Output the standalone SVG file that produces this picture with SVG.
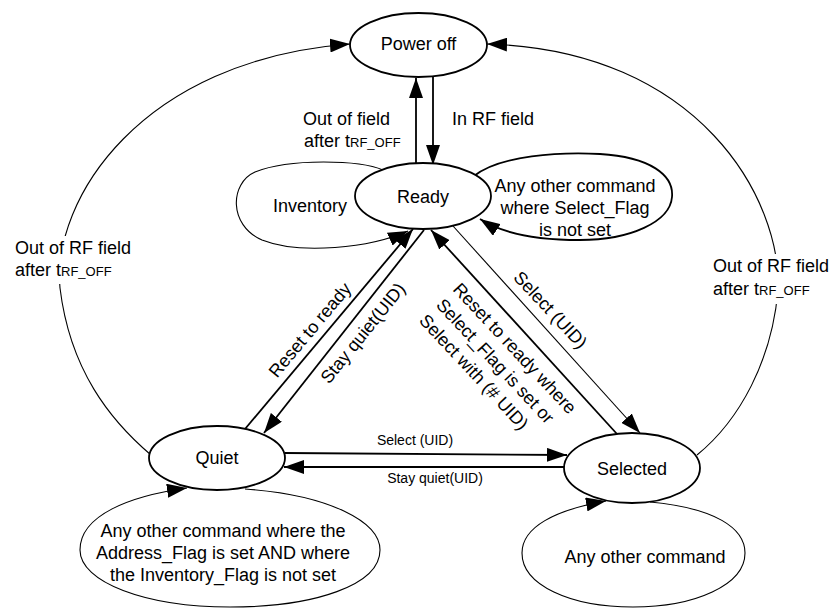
<svg xmlns="http://www.w3.org/2000/svg" width="835" height="610" viewBox="0 0 835 610">
<style>
text{font-family:"Liberation Sans",Arial,sans-serif;font-size:18px;fill:#000}
.sm{font-size:14px}
.sub{font-size:13px}
.node{fill:#fff;stroke:#000;stroke-width:1.8}
.c{fill:none;stroke:#000;stroke-width:1.8}
.thin{fill:none;stroke:#000;stroke-width:1.1}
.mid{text-anchor:middle}
</style>
<defs>
<marker id="ah" viewBox="0 0 20 14" refX="20" refY="7" markerWidth="20" markerHeight="14" markerUnits="userSpaceOnUse" orient="auto"><path d="M0,0 L20,7 L0,14 z" fill="#000"/></marker>
</defs>
<g id="connectors">
<path class="thin" d="M151 455 C110 420 70 370 60 288 C52 200 140 60 350 44" marker-end="url(#ah)"/>
<path class="thin" d="M697 455 C740 420 772 360 778 290 C782 200 700 50 487 44" marker-end="url(#ah)"/>
<path class="c" d="M416 164 L416 78" marker-end="url(#ah)"/>
<path class="c" d="M433 77 L433 165" marker-end="url(#ah)"/>
<path class="thin" d="M383 170 C360 160 290 158 255 172 C230 183 228 225 262 240 C300 255 370 248 408 231" marker-end="url(#ah)"/>
<path class="c" d="M474 176 C500 155 560 152 600 154 C650 157 674 175 672 197 C670 222 630 240 580 240 C530 240 500 232 480 219" marker-end="url(#ah)"/>
<path class="c" d="M245 429 L413 229" marker-end="url(#ah)"/>
<path class="c" d="M424 230 L264 433" marker-end="url(#ah)"/>
<path class="thin" d="M453 226 L640 433" marker-end="url(#ah)"/>
<path class="c" d="M617 434 L431 230" marker-end="url(#ah)"/>
<path class="c" d="M285 453 L567 455" marker-end="url(#ah)"/>
<path class="c" d="M564 467 L284 467" marker-end="url(#ah)"/>
<path class="thin" d="M245 489 C330 495 380 522 380 550 C380 585 315 607 230 607 C145 607 80 582 80 550 C80 515 130 496 187 488" marker-end="url(#ah)"/>
<path class="thin" d="M650 502 C715 508 745 528 745 553 C745 585 695 607 633 607 C570 607 522 585 522 553 C522 527 555 510 606 501" marker-end="url(#ah)"/>
</g>
<g id="power-off"><ellipse class="node" cx="418.5" cy="45" rx="68.5" ry="32"/><text class="mid" x="418.5" y="50">Power off</text></g>
<g id="ready"><ellipse class="node" cx="423" cy="196" rx="68" ry="33"/><text class="mid" x="423" y="203">Ready</text></g>
<g id="quiet"><ellipse class="node" cx="217" cy="458" rx="68" ry="32"/><text class="mid" x="217" y="464">Quiet</text></g>
<g id="selected"><ellipse class="node" cx="632" cy="468" rx="68" ry="35"/><text class="mid" x="632" y="475">Selected</text></g>
<g id="labels">
<text x="303" y="125">Out of field</text>
<text x="304" y="147">after t<tspan class="sub">RF_OFF</tspan></text>
<text x="452" y="125">In RF field</text>
<rect x="12" y="236" width="125" height="48" fill="#fff"/>
<text x="15" y="254">Out of RF field</text>
<text x="15" y="276">after t<tspan class="sub">RF_OFF</tspan></text>
<rect x="710" y="254" width="124" height="50" fill="#fff"/>
<text x="713" y="272">Out of RF field</text>
<text x="713" y="295">after t<tspan class="sub">RF_OFF</tspan></text>
<text class="mid" x="310" y="212">Inventory</text>
<text class="mid" x="575" y="192">Any other command</text>
<text class="mid" x="575" y="214">where Select_Flag</text>
<text class="mid" x="575" y="236">is not set</text>
<text class="mid" x="223" y="537">Any other command where the</text>
<text class="mid" x="223" y="559">Address_Flag is set AND where</text>
<text class="mid" x="223" y="581">the Inventory_Flag is not set</text>
<text class="mid" x="645" y="563">Any other command</text>
<text class="sm mid" x="415" y="445">Select (UID)</text>
<text class="sm mid" x="435" y="483">Stay quiet(UID)</text>
<text class="mid" transform="translate(314.6 333.9) rotate(-50)">Reset to ready</text>
<text class="mid" transform="translate(367.6 337) rotate(-51)">Stay quiet(UID)</text>
<text class="mid" transform="translate(546 314) rotate(47)">Select (UID)</text>
<g transform="translate(452 290) rotate(47)">
<text x="0" y="0">Reset to ready where</text>
<text x="0" y="23">Select_Flag is set or</text>
<text x="0" y="46">Select with (# UID)</text>
</g>
</g>
</svg>
